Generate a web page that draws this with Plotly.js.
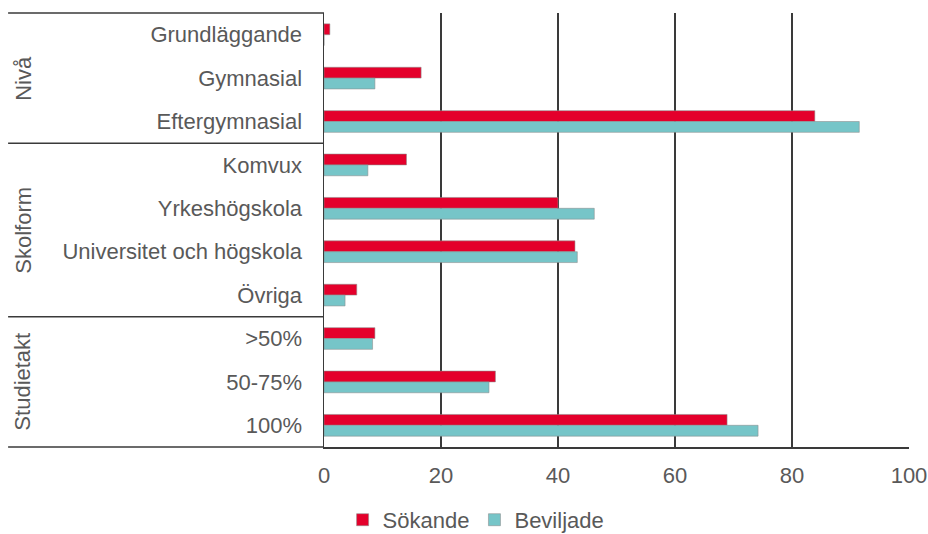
<!DOCTYPE html>
<html>
<head>
<meta charset="utf-8">
<script src="https://cdn.plot.ly/plotly-3.0.1.min.js"></script>
<style>html,body{margin:0;padding:0;background:#fff;}#chart{width:928px;height:534px;}</style>
</head>
<body>
<div id="chart"></div>
<script>
const categories = ['Grundläggande','Gymnasial','Eftergymnasial','Komvux','Yrkeshögskola','Universitet och högskola','Övriga','>50%','50-75%','100%'];
const sokande   = [1.0, 16.6, 83.9, 14.1, 40.0, 42.9, 5.6, 8.7, 29.3, 68.9];
const beviljade = [0, 8.7, 91.5, 7.5, 46.2, 43.3, 3.6, 8.3, 28.2, 74.2];
const groupNames = ['Nivå','Skolform','Studietakt'];
const groupStart = [0, 3, 7];
const groupEnd   = [2, 6, 9];
const xTicks = [0, 20, 40, 60, 80, 100];

const font = {family: '"Liberation Sans", Arial, sans-serif', size: 22, color: '#595959'};
const lineCol = '#3a3a3a';

const traces = [
  {type:'bar', orientation:'h', name:'Sökande', y:categories, x:sokande,
   marker:{color:'#E4002B', line:{color:'rgba(140,140,140,0.7)', width:0.8}}},
  {type:'bar', orientation:'h', name:'Beviljade', y:categories, x:beviljade,
   marker:{color:'#76C5C8', line:{color:'rgba(140,140,140,0.7)', width:0.8}}}
];

const leftX = -0.54;
const shapes = [];
const annotations = [];
shapes.push({type:'line', xref:'paper', yref:'paper', x0:leftX, x1:0, y0:1, y1:1, line:{color:lineCol, width:1.5}});
shapes.push({type:'line', xref:'paper', yref:'paper', x0:leftX, x1:0, y0:0, y1:0, line:{color:lineCol, width:1.5}});
groupNames.forEach((g,i)=>{
  if (i>0) {
    const yy = groupStart[i]-0.5;
    shapes.push({type:'line', xref:'paper', yref:'y', x0:leftX, x1:0, y0:yy, y1:yy, line:{color:lineCol, width:1.5}});
  }
  annotations.push({text:g, xref:'paper', yref:'y', x:-0.515, y:(groupStart[i]+groupEnd[i])/2,
    textangle:-90, showarrow:false, font:font, xanchor:'center', yanchor:'middle'});
});

const layout = {
  width:928, height:534,
  margin:{l:324, r:19, t:13, b:87, autoexpand:false},
  paper_bgcolor:'#fff', plot_bgcolor:'#fff',
  font:font,
  barmode:'group', bargap:0.5, bargroupgap:0,
  showlegend:true,
  legend:{orientation:'h', traceorder:'normal', x:0.26, xanchor:'center', y:-0.168, yanchor:'middle', font:font},
  xaxis:{range:[0,100], tickvals:xTicks, showgrid:true, gridcolor:lineCol, gridwidth:1.3,
    zeroline:false, showline:true, linecolor:lineCol, linewidth:1.5, ticks:'', ticklabelstandoff:8, fixedrange:true},
  yaxis:{type:'category', categoryarray:categories, categoryorder:'array', autorange:'reversed',
    showgrid:false, zeroline:false, showline:true, linecolor:lineCol, linewidth:1.5, ticks:'', ticklabelstandoff:16, fixedrange:true},
  shapes:shapes,
  annotations:annotations
};

Plotly.newPlot('chart', traces, layout, {displayModeBar:false, staticPlot:true});
</script>
</body>
</html>
